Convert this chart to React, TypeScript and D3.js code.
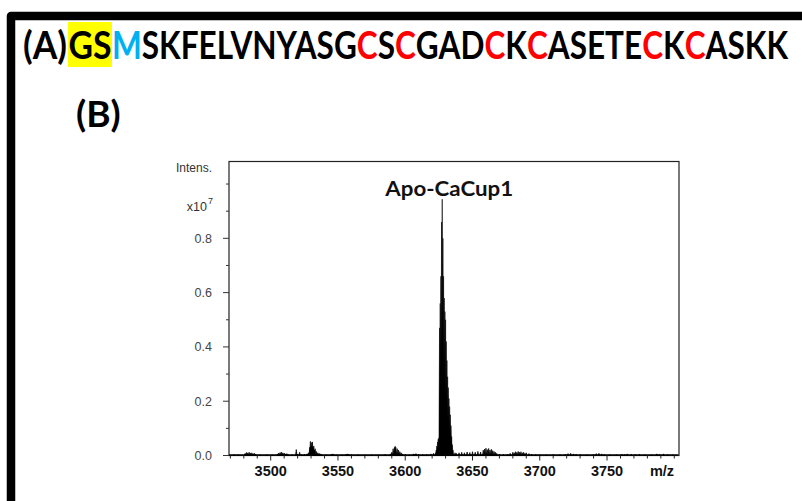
import React, { useLayoutEffect, useRef, useState } from "react";
import * as d3 from "d3";

const W = 802;
const H = 501;

// Sequence (panel A)
const seqLabel = "(A)";
const seqTagged = "GS";
const seqRest = ["M", "SKFELVNYASG", "C", "S", "C", "GAD", "C", "K", "C", "ASETE", "C", "K", "C", "ASKK"];
const seqRestColors = ["#00B0F0", "#000000", "#FF0000", "#000000", "#FF0000", "#000000", "#FF0000", "#000000", "#FF0000", "#000000", "#FF0000", "#000000", "#FF0000", "#000000"];

// Axes
const xTicks = [3500, 3550, 3600, 3650, 3700, 3750];
const xMinorTicks = [3470, 3480, 3490, 3510, 3520, 3530, 3540, 3560, 3570, 3580, 3590, 3610, 3620, 3630, 3640, 3660, 3670, 3680, 3690, 3710, 3720, 3730, 3740, 3760, 3770, 3780, 3790, 3800];
const yTicks = [0.0, 0.2, 0.4, 0.6, 0.8];
const yMinorTicks = [0.1, 0.3, 0.5, 0.7, 0.9, 1.0];

// Spectrum: [m/z, intensity (x10^7)]
const noisePeaks: [number, number][] = [
  [3473, 0.004], [3476, 0.003], [3481, 0.008], [3482, 0.011], [3483, 0.01], [3484, 0.012], [3485, 0.009],
  [3486, 0.01], [3487, 0.007], [3488, 0.008], [3489, 0.005], [3492, 0.003], [3497, 0.003], [3501, 0.003],
  [3505, 0.006], [3506, 0.009], [3507, 0.011], [3508, 0.012], [3509, 0.01], [3510, 0.009], [3511, 0.006],
  [3512, 0.007], [3513, 0.004], [3516, 0.003], [3519, 0.022], [3520, 0.005], [3521.5, 0.012], [3523, 0.004],
  [3525, 0.005], [3527, 0.006], [3528, 0.01], [3529, 0.03], [3529.5, 0.052], [3530, 0.035], [3530.5, 0.048],
  [3531, 0.05], [3531.5, 0.03], [3532, 0.035], [3532.5, 0.02], [3533, 0.025], [3534, 0.015], [3535, 0.01],
  [3536, 0.008], [3537, 0.006], [3538, 0.004], [3541, 0.003], [3545, 0.005], [3546, 0.006], [3547, 0.004],
  [3549, 0.003], [3553, 0.003], [3556, 0.005], [3557, 0.006], [3558, 0.005], [3560, 0.004], [3565, 0.003],
  [3570, 0.003], [3575, 0.003], [3580, 0.003], [3585, 0.004], [3589, 0.006], [3590, 0.012], [3591, 0.025],
  [3592, 0.03], [3592.5, 0.034], [3593, 0.03], [3594, 0.025], [3595, 0.02], [3596, 0.014], [3597, 0.01],
  [3598, 0.006], [3600, 0.004], [3603, 0.003], [3606, 0.006], [3607, 0.005], [3608, 0.007], [3610, 0.005],
  [3613, 0.004], [3616, 0.004], [3619, 0.006], [3621, 0.008],
  [3637, 0.01], [3638, 0.008], [3640, 0.01], [3642, 0.012], [3644, 0.01], [3646, 0.013], [3648, 0.011],
  [3650, 0.014], [3652, 0.012], [3654, 0.015], [3656, 0.013], [3658, 0.02], [3659, 0.024], [3660, 0.027],
  [3661, 0.022], [3662, 0.026], [3663, 0.02], [3664, 0.023], [3665, 0.018], [3666, 0.015], [3667, 0.012],
  [3668, 0.008], [3670, 0.005], [3673, 0.004], [3676, 0.005], [3678, 0.008], [3680, 0.012], [3681, 0.01],
  [3682, 0.014], [3683, 0.012], [3684, 0.015], [3685, 0.012], [3686, 0.014], [3687, 0.01], [3688, 0.012],
  [3689, 0.008], [3690, 0.01], [3692, 0.007], [3694, 0.005], [3697, 0.004], [3700, 0.003], [3705, 0.003],
  [3710, 0.004], [3715, 0.003], [3719, 0.005], [3721, 0.007], [3723, 0.008], [3725, 0.006], [3727, 0.005],
  [3730, 0.004], [3735, 0.003], [3740, 0.005], [3742, 0.007], [3744, 0.008], [3746, 0.006], [3748, 0.004],
  [3752, 0.003], [3757, 0.003], [3761, 0.005], [3763, 0.004], [3765, 0.006], [3768, 0.005], [3771, 0.004],
  [3774, 0.005], [3778, 0.003], [3783, 0.003], [3787, 0.006], [3789, 0.005], [3792, 0.006], [3795, 0.004],
  [3799, 0.003],
];

const mainPeaks: [number, number][] = [
  [3622.5, 0.01], [3623, 0.02], [3623.5, 0.035], [3624, 0.05], [3624.5, 0.06], [3625, 0.065],
  [3625.5, 0.47], [3626, 0.56], [3626.5, 0.66], [3627, 0.86], [3627.5, 0.944], [3628, 0.8],
  [3628.5, 0.66], [3629, 0.58], [3629.5, 0.53], [3630, 0.5], [3630.5, 0.42], [3631, 0.35],
  [3631.5, 0.29], [3632, 0.25], [3632.5, 0.21], [3633, 0.18], [3633.5, 0.15], [3634, 0.11],
  [3634.5, 0.07], [3635, 0.04], [3635.5, 0.02],
];

const peakLabel = "Apo-CaCup1";
const peakLabelMz = 3627.5;

const titleFont = "Lato, 'Open Sans', sans-serif";
const axisFont = "'Liberation Sans', Arial, sans-serif";

// Text scaled horizontally to a target width (keeps glyph boxes consistent)
function FitText(props: {
  x: number;
  y: number;
  width: number;
  anchor?: "start" | "middle" | "end";
  fontSize: number;
  fill?: string;
  children: React.ReactNode;
}) {
  const ref = useRef<SVGTextElement>(null);
  const [s, setS] = useState(1);
  useLayoutEffect(() => {
    const t = ref.current;
    if (!t) return;
    const len = t.getComputedTextLength();
    if (len > 0) setS(props.width / len);
  }, [props.width]);
  return (
    <g transform={`translate(${props.x},${props.y}) scale(${s},1)`}>
      <text
        ref={ref}
        x={0}
        y={0}
        textAnchor={props.anchor || "start"}
        fontFamily={titleFont}
        fontWeight={700}
        fontSize={props.fontSize}
        fill={props.fill || "#000"}
      >
        {props.children}
      </text>
    </g>
  );
}

export default function App() {
  const margin = { left: 229, top: 161.5, right: 679, bottom: 455.5 };
  const x = d3.scaleLinear().domain([3469, 3803.5]).range([margin.left, margin.right]);
  const y = d3.scaleLinear().domain([0, 1.083]).range([margin.bottom, margin.top]);

  const spikePath = (peaks: [number, number][], hw: number) => {
    const p = d3.path();
    peaks.forEach(([mz, v]) => {
      p.moveTo(x(mz - hw), y(0));
      p.lineTo(x(mz), y(v));
      p.lineTo(x(mz + hw), y(0));
      p.closePath();
    });
    return p.toString();
  };

  return (
    <svg width={W} height={H} style={{ position: "absolute", left: 0, top: 0, background: "#fff" }}>
      <rect x={0} y={0} width={W} height={H} fill="#ffffff" />
      {/* outer frame */}
      <path d={`M11,${H + 10} L11,16 L${W + 10},16`} fill="none" stroke="#000" strokeWidth={8.5} strokeLinejoin="round" />

      {/* sequence */}
      <FitText x={23} y={59} width={44} fontSize={37.5}>{seqLabel}</FitText>
      <rect x={68} y={22} width={44} height={45} fill="#FFFF00" />
      <FitText x={68.5} y={59} width={43} fontSize={37.5}>{seqTagged}</FitText>
      <FitText x={112} y={59} width={673} fontSize={37.5}>
        {seqRest.map((s, i) => (
          <tspan key={i} fill={seqRestColors[i]}>{s}</tspan>
        ))}
      </FitText>

      <text x={76} y={127} fontFamily={titleFont} fontWeight={700} fontSize={37} fill="#000">(B)</text>

      {/* plot frame */}
      <rect x={margin.left} y={margin.top} width={margin.right - margin.left} height={margin.bottom - margin.top} fill="none" stroke="#222" strokeWidth={1.2} />

      {/* spectrum */}
      <line x1={x(3469)} x2={x(3803)} y1={y(0) - 0.5} y2={y(0) - 0.5} stroke="#000" strokeWidth={1.3} />
      <path d={spikePath(noisePeaks, 0.55)} fill="#000" stroke="#000" strokeWidth={0.7} strokeLinejoin="round" />
      <path d={spikePath(mainPeaks, 0.45)} fill="#000" stroke="#000" strokeWidth={0.6} strokeLinejoin="miter" />

      {/* y axis ticks */}
      {yTicks.map((t) => (
        <g key={"yt" + t}>
          <line x1={margin.left - 6} x2={margin.left} y1={y(t)} y2={y(t)} stroke="#333" strokeWidth={1} />
          <text x={212} y={y(t)} dy="0.35em" textAnchor="end" fontFamily={axisFont} fontSize={12.5} fill="#444">
            {t.toFixed(1)}
          </text>
        </g>
      ))}
      {yMinorTicks.map((t) => (
        <line key={"ym" + t} x1={margin.left - 3} x2={margin.left} y1={y(t)} y2={y(t)} stroke="#333" strokeWidth={1} />
      ))}
      <text x={212} y={172} textAnchor="end" fontFamily={axisFont} fontSize={12} fill="#333">Intens.</text>
      <text x={207} y={211} textAnchor="end" fontFamily={axisFont} fontSize={12.5} fill="#333">x10</text>
      <text x={208} y={204} textAnchor="start" fontFamily={axisFont} fontSize={9} fill="#333">7</text>

      {/* x axis ticks */}
      {xTicks.map((t) => (
        <g key={"xt" + t}>
          <line x1={x(t)} x2={x(t)} y1={margin.bottom} y2={margin.bottom + 5} stroke="#222" strokeWidth={1} />
          <text x={x(t)} y={476} textAnchor="middle" fontFamily={axisFont} fontWeight={700} fontSize={14.5} fill="#111">
            {t}
          </text>
        </g>
      ))}
      {xMinorTicks.map((t) => (
        <line key={"xm" + t} x1={x(t)} x2={x(t)} y1={margin.bottom} y2={margin.bottom + 3} stroke="#222" strokeWidth={1} />
      ))}
      <text x={662} y={476} textAnchor="middle" fontFamily={axisFont} fontWeight={700} fontSize={14.5} fill="#111">m/z</text>

      {/* peak label */}
      <FitText x={x(peakLabelMz) + 7} y={196} width={128} anchor="middle" fontSize={21} fill="#111">
        {peakLabel}
      </FitText>
    </svg>
  );
}
